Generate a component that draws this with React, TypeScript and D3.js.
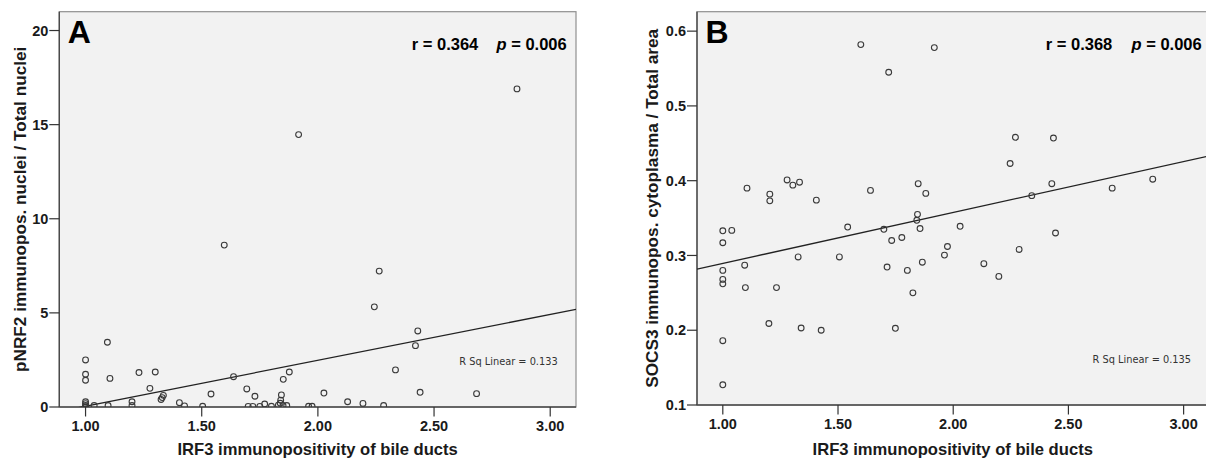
import React from 'react';
import * as d3 from 'd3';

// ---------- data ----------
const xTicks = [1.0, 1.5, 2.0, 2.5, 3.0];
const aYTicks = [0, 5, 10, 15, 20];
const bYTicks = [0.1, 0.2, 0.3, 0.4, 0.5, 0.6];

const xTitle = 'IRF3 immunopositivity of bile ducts';
const aYTitle = 'pNRF2 immunopos. nuclei / Total nuclei';
const bYTitle = 'SOCS3 immunopos. cytoplasma / Total area';

const aIrf3 = [
  1.0, 1.0, 1.0, 1.0, 1.0, 1.0, 1.0, 1.094, 1.105, 1.037, 1.097, 1.2, 1.2, 1.23, 1.3,
  1.277, 1.335, 1.33, 1.325, 1.404, 1.426, 1.504, 1.54, 1.637, 1.694, 1.729, 1.7, 1.72,
  1.75, 1.771, 1.8, 1.83, 1.843, 1.84, 1.838, 1.85, 1.866, 1.851, 1.877, 1.96, 1.975,
  2.026, 2.128, 2.194, 2.283, 2.334, 2.43, 2.42, 2.44, 2.683, 2.264, 2.243, 1.597,
  2.857, 1.917,
];
const aPnrf2 = [
  2.5, 1.74, 1.42, 0.28, 0.18, 0.08, 0.02, 3.44, 1.52, 0.08, 0.08, 0.28, 0.08, 1.83, 1.86,
  0.99, 0.62, 0.5, 0.4, 0.23, 0.06, 0.04, 0.69, 1.61, 0.96, 0.57, 0.03, 0.03,
  0.03, 0.16, 0.04, 0.1, 0.64, 0.36, 0.2, 0.08, 0.08, 1.47, 1.86, 0.04, 0.04,
  0.74, 0.28, 0.19, 0.08, 1.97, 4.04, 3.26, 0.78, 0.71, 7.22, 5.32, 8.6,
  16.9, 14.47,
];

const bIrf3 = [
  1.0, 1.039, 1.0, 1.0, 1.0, 1.0, 1.0, 1.0, 1.095, 1.098, 1.105, 1.204, 1.204, 1.2, 1.233,
  1.279, 1.304, 1.333, 1.327, 1.34, 1.406, 1.427, 1.506, 1.542, 1.599, 1.641, 1.699,
  1.713, 1.72, 1.733, 1.749, 1.777, 1.801, 1.825, 1.848, 1.845, 1.842, 1.856, 1.866,
  1.881, 1.918, 1.962, 1.975, 2.03, 2.133, 2.198, 2.247, 2.27, 2.286, 2.341, 2.428,
  2.435, 2.444, 2.69, 2.866,
];
const bSocs3 = [
  0.333, 0.3335, 0.317, 0.28, 0.268, 0.262, 0.186, 0.127, 0.287, 0.257, 0.39, 0.382, 0.373,
  0.209, 0.257, 0.401, 0.394, 0.398, 0.298, 0.203, 0.374, 0.2, 0.298, 0.338, 0.582, 0.387,
  0.335, 0.2845, 0.545, 0.32, 0.2026, 0.324, 0.28, 0.25, 0.396, 0.355, 0.347, 0.336, 0.291,
  0.383, 0.578, 0.3005, 0.312, 0.339, 0.289, 0.272, 0.423, 0.458, 0.308, 0.38, 0.396,
  0.457, 0.33, 0.39, 0.402,
];

// linear fit: [intercept, slope]
const aFit = [-2.4, 2.44];
const bFit = [0.2213, 0.0681];

const aStats = { r: '0.364', p: '0.006', rsq: '0.133' };
const bStats = { r: '0.368', p: '0.006', rsq: '0.135' };

// ---------- layout ----------
const FONT = '"Liberation Sans", Arial, Helvetica, sans-serif';

type PanelCfg = {
  id: string;
  letter: string;
  xs: number[];
  ys: number[];
  fit: number[];
  stats: { r: string; p: string; rsq: string };
  yTicks: number[];
  yFmt: (v: number) => string;
  yTitle: string;
  xDomain: [number, number];
  yDomain: [number, number];
  left: number;
  right: number;
  top: number;
  bottom: number;
  yTitleX: number;
  pEnd: number;
  rEnd: number;
  rsqEnd: number;
  rsqY: number;
};

const panels: PanelCfg[] = [
  {
    id: 'A', letter: 'A', xs: aIrf3, ys: aPnrf2, fit: aFit, stats: aStats,
    yTicks: aYTicks, yFmt: d3.format('d'), yTitle: aYTitle,
    xDomain: [0.887, 3.111], yDomain: [0, 21],
    left: 59.3, right: 576, top: 11.7, bottom: 407,
    yTitleX: 25.5, pEnd: 9.3, rEnd: 97.7, rsqEnd: 18.3, rsqY: 365,
  },
  {
    id: 'B', letter: 'B', xs: bIrf3, ys: bSocs3, fit: bFit, stats: bStats,
    yTicks: bYTicks, yFmt: d3.format('.1f'), yTitle: bYTitle,
    xDomain: [0.888, 3.108], yDomain: [0.1, 0.626],
    left: 697, right: 1208.5, top: 11.7, bottom: 405,
    yTitleX: 657.5, pEnd: 6.8, rEnd: 96.2, rsqEnd: 17.5, rsqY: 363,
  },
];

const xFmt = d3.format('.2f');

function Panel({ c }: { c: PanelCfg }) {
  const x = d3.scaleLinear().domain(c.xDomain).range([c.left, c.right]);
  const y = d3.scaleLinear().domain(c.yDomain).range([c.bottom, c.top]);
  const line = d3
    .line<number>()
    .x((v) => x(v))
    .y((v) => y(c.fit[0] + c.fit[1] * v));
  const clipId = `clip-${c.id}`;
  const cy = (c.top + c.bottom) / 2;
  const cx = (c.left + c.right) / 2;
  return (
    <g fontFamily={FONT}>
      <defs>
        <clipPath id={clipId}>
          <rect x={c.left} y={c.top} width={c.right - c.left} height={c.bottom - c.top} />
        </clipPath>
      </defs>
      <rect
        x={c.left}
        y={c.top}
        width={c.right - c.left}
        height={c.bottom - c.top}
        fill="#f2f2f2"
        stroke="#8f8f8f"
        strokeWidth={1.2}
      />
      {/* axes */}
      <line x1={c.left} x2={c.left} y1={c.top} y2={c.bottom} stroke="#4a4a4a" strokeWidth={1.4} />
      <line x1={c.left} x2={c.right} y1={c.bottom} y2={c.bottom} stroke="#4a4a4a" strokeWidth={1.4} />
      {c.yTicks.map((t) => (
        <g key={`y${t}`}>
          <line x1={c.left - 10} x2={c.left} y1={y(t)} y2={y(t)} stroke="#333" strokeWidth={1.2} />
          <text
            x={c.left - 11}
            y={y(t)}
            dy="0.36em"
            textAnchor="end"
            fontSize={14.5}
            fontWeight="bold"
            fill="#1a1a1a"
          >
            {c.yFmt(t)}
          </text>
        </g>
      ))}
      {xTicks.map((t) => (
        <g key={`x${t}`}>
          <line x1={x(t)} x2={x(t)} y1={c.bottom} y2={c.bottom + 9.5} stroke="#333" strokeWidth={1.2} />
          <text
            x={x(t)}
            y={c.bottom + 23.5}
            textAnchor="middle"
            fontSize={14.5}
            fontWeight="bold"
            fill="#1a1a1a"
          >
            {xFmt(t)}
          </text>
        </g>
      ))}
      {/* fit line */}
      <path
        d={line(c.xDomain) || ''}
        clipPath={`url(#${clipId})`}
        fill="none"
        stroke="#222"
        strokeWidth={1.3}
      />
      {/* points */}
      {c.xs.map((v, i) => (
        <circle
          key={i}
          cx={x(v)}
          cy={y(c.ys[i])}
          r={2.9}
          fill="none"
          stroke="#3a3a3a"
          strokeWidth={1.1}
          clipPath={`url(#${clipId})`}
        />
      ))}
      {/* panel letter */}
      <text x={c.left + 8.5} y={c.top + 31} fontSize={32} fontWeight="bold" fill="#000">
        {c.letter}
      </text>
      {/* stats */}
      <text x={c.right - c.rEnd} y={50} textAnchor="end" fontSize={16.5} fontWeight="bold" fill="#000">
        {`r = ${c.stats.r}`}
      </text>
      <text x={c.right - c.pEnd} y={50} textAnchor="end" fontSize={16.5} fontWeight="bold" fill="#000">
        <tspan fontStyle="italic">p</tspan>
        {` = ${c.stats.p}`}
      </text>
      <text
        x={c.right - c.rsqEnd}
        y={c.rsqY}
        textAnchor="end"
        fontSize={9.8}
        fontFamily='"DejaVu Sans", Verdana, sans-serif'
        fill="#333"
      >
        {`R Sq Linear = ${c.stats.rsq}`}
      </text>
      {/* axis titles */}
      <text x={cx} y={455} textAnchor="middle" fontSize={16.6} fontWeight="bold" fill="#1a1a1a">
        {xTitle}
      </text>
      <text
        transform={`translate(${c.yTitleX},${cy}) rotate(-90)`}
        textAnchor="middle"
        fontSize={17.2}
        fontWeight="bold"
        fill="#1a1a1a"
      >
        {c.yTitle}
      </text>
    </g>
  );
}

export default function App() {
  return (
    <svg
      width={1206}
      height={460}
      style={{ position: 'absolute', left: 0, top: 0, background: '#fff' }}
    >
      <rect x={0} y={0} width={1206} height={460} fill="#fff" />
      {panels.map((p) => (
        <Panel key={p.id} c={p} />
      ))}
    </svg>
  );
}
